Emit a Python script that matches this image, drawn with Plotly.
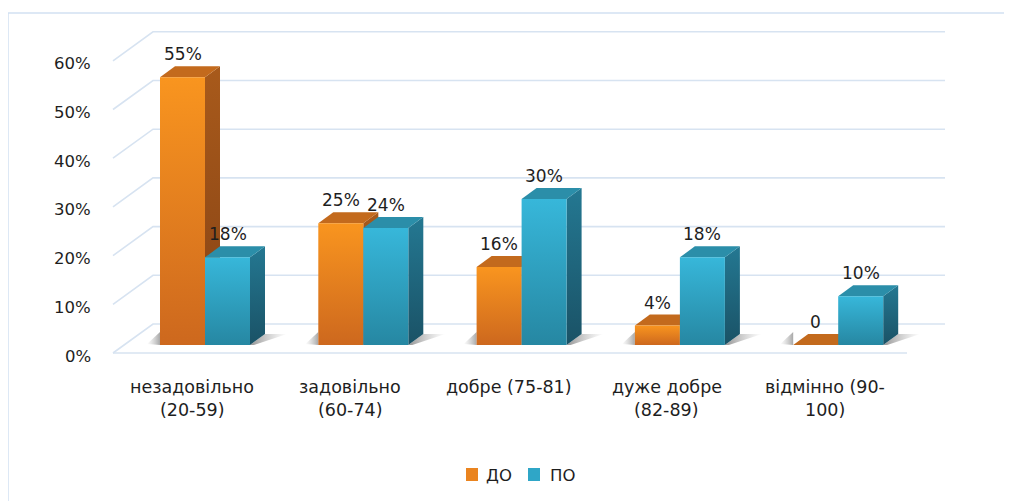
import plotly.graph_objects as go

# ---------------- data ----------------
CATEGORY_LINES = [
    ["незадовільно", "(20-59)"],
    ["задовільно", "(60-74)"],
    ["добре (75-81)"],
    ["дуже добре", "(82-89)"],
    ["відмінно (90-", "100)"],
]
SERIES_NAMES = ["ДО", "ПО"]
DO_VALUES = [55, 25, 16, 4, 0]
PO_VALUES = [18, 24, 30, 18, 10]
DO_LABELS = ["55%", "25%", "16%", "4%", "0"]
PO_LABELS = ["18%", "24%", "30%", "18%", "10%"]
Y_TICKS = [0, 10, 20, 30, 40, 50, 60]
Y_TICK_LABELS = ["0%", "10%", "20%", "30%", "40%", "50%", "60%"]

# ---------------- layout / style constants (screen pixels) ----------------
OFF = 8                      # page body margin
W, H = 1004, 493
ML, MR, MT, MB = 20, 10, 10, 10
PX = 158.3                   # pixels per category unit
PY = 4.87                    # pixels per percent
X0PIX, Y0PIX = 205, 345      # screen position of (0, 0)
XMIN = -(X0PIX - OFF - ML) / PX
XMAX = XMIN + (W - ML - MR) / PX
YMAX = (Y0PIX - OFF - MT) / PY
YMIN = YMAX - (H - MT - MB) / PY


def X(p):
    return (p - X0PIX) / PX


def Y(p):
    return (Y0PIX - p) / PY


BW = 45 / PX        # bar front width
BDX = 15 / PX       # bar depth (x)
BDY = 11 / PY       # bar depth (y)
WALL_Y0 = Y(324)
WALL_DX = 40 / PX
WALL_DY = 29 / PY
WALL_XL = X(153)
WALL_XR = X(945)
FLOOR_XR = X(907)
LABEL_DX = -13 / PX
CAT_LINE_Y = [Y(387), Y(410)]

GRID_COLOR = "#D7E3F1"
FONT = "DejaVu Sans"
TXT = "#1e1e1e"
COLORS = {
    "ДО": dict(front_top="#F9951F", front_bottom="#CD681E", side_top="#A85A1B",
               side_bottom="#874315", top="#C36A1D", legend="#EA841F"),
    "ПО": dict(front_top="#37B7DA", front_bottom="#2687A2", side_top="#247892",
               side_bottom="#1A5266", top="#2B8EA9", legend="#2FA6C7"),
}

fig = go.Figure()


def poly(xs, ys, color=None, grad=None, gtype="vertical"):
    kw = dict(x=xs + [xs[0]], y=ys + [ys[0]], mode="lines", fill="toself",
              line=dict(width=0), hoverinfo="skip", showlegend=False)
    if grad is not None:
        kw["fillgradient"] = dict(type=gtype,
                                  colorscale=[[0, grad[0]], [1, grad[1]]])
        kw["fillcolor"] = grad[1]
    else:
        kw["fillcolor"] = color
    fig.add_trace(go.Scatter(**kw))


# ---------------- back wall / floor grid ----------------
gx, gy = [], []
for v in Y_TICKS:
    gx += [WALL_XL - WALL_DX, WALL_XL, WALL_XR, None]
    gy += [v + WALL_Y0 - WALL_DY, v + WALL_Y0, v + WALL_Y0, None]
gx += [WALL_XL - WALL_DX, FLOOR_XR, None]
gy += [WALL_Y0 - WALL_DY, WALL_Y0 - WALL_DY, None]
fig.add_trace(go.Scatter(x=gx, y=gy, mode="lines",
                         line=dict(color=GRID_COLOR, width=1.6),
                         hoverinfo="skip", showlegend=False))

# ---------------- soft shadows ----------------
for i in range(len(DO_VALUES)):
    xl = i - BW
    xr = i + BW
    poly([xr, xr + BDX, xr + BDX + 22 / PX, xr + 4 / PX],
         [0, BDY, BDY, 0],
         grad=("rgba(60,60,60,0.55)", "rgba(120,120,120,0.0)"), gtype="horizontal")
    poly([xl - 13 / PX, xl, xl],
         [0.2, BDY + 0.4, 0],
         grad=("rgba(120,120,120,0.0)", "rgba(60,60,60,0.45)"), gtype="horizontal")

# ---------------- 3D bars ----------------
for i in range(len(DO_VALUES)):
    for s, (name, vals) in enumerate(zip(SERIES_NAMES, [DO_VALUES, PO_VALUES])):
        c = COLORS[name]
        v = vals[i]
        xl = i - BW if s == 0 else i
        xr = xl + BW
        # side face
        poly([xr, xr + BDX, xr + BDX, xr], [0, BDY, v + BDY, v],
             grad=(c["side_bottom"], c["side_top"]))
        # top face
        poly([xl, xr, xr + BDX, xl + BDX], [v, v, v + BDY, v + BDY],
             color=c["top"])
        # front face
        if v > 0:
            poly([xl, xr, xr, xl], [0, 0, v, v],
                 grad=(c["front_bottom"], c["front_top"]))

# ---------------- annotations ----------------
ann = []
for v, lab in zip(Y_TICKS, Y_TICK_LABELS):
    ann.append(dict(x=WALL_XL - WALL_DX, y=v + WALL_Y0 - WALL_DY, text=lab,
                    xanchor="right", yanchor="middle", xshift=-20, yshift=-3,
                    showarrow=False, font=dict(size=16.5, color=TXT)))
for s, (vals, labs) in enumerate([(DO_VALUES, DO_LABELS), (PO_VALUES, PO_LABELS)]):
    for i, (v, lab) in enumerate(zip(vals, labs)):
        xl = i - BW if s == 0 else i
        ann.append(dict(x=xl + BW / 2, y=v + BDY, text=lab, xanchor="center",
                        yanchor="bottom", yshift=0, showarrow=False,
                        font=dict(size=17, color=TXT)))
for i, lines in enumerate(CATEGORY_LINES):
    for j, line in enumerate(lines):
        ann.append(dict(x=i + LABEL_DX, y=CAT_LINE_Y[j], text=line,
                        xanchor="center", yanchor="middle", showarrow=False,
                        font=dict(size=17.5, color=TXT)))

# ---------------- legend (squares + text) ----------------
shapes = [dict(type="rect", xref="paper", yref="paper",
               x0=(8 - OFF - ML) / (W - ML - MR), x1=1.2,
               y0=-0.6, y1=(H + OFF - MB - 13) / (H - MT - MB),
               line=dict(color="#D2E1F2", width=1.5), layer="below")]
LEG_SQ = [(466, 478), (528, 540)]
LEG_TX = [484, 548]
for name, (a, b), tx in zip(SERIES_NAMES, LEG_SQ, LEG_TX):
    shapes.append(dict(type="rect", xref="x", yref="y", x0=X(a), x1=X(b),
                       y0=Y(481), y1=Y(468), line=dict(width=0),
                       fillcolor=COLORS[name]["legend"]))
    ann.append(dict(x=X(tx), y=Y(475), text=name, xanchor="left",
                    yanchor="middle", showarrow=False,
                    font=dict(size=16.5, color=TXT)))

fig.update_layout(
    width=W, height=H,
    margin=dict(l=ML, r=MR, t=MT, b=MB),
    paper_bgcolor="white", plot_bgcolor="white",
    font=dict(family=FONT, color=TXT),
    xaxis=dict(range=[XMIN, XMAX], visible=False, fixedrange=True),
    yaxis=dict(range=[YMIN, YMAX], visible=False, fixedrange=True),
    showlegend=False,
    annotations=ann,
    shapes=shapes,
)

fig.write_html("out.html")
